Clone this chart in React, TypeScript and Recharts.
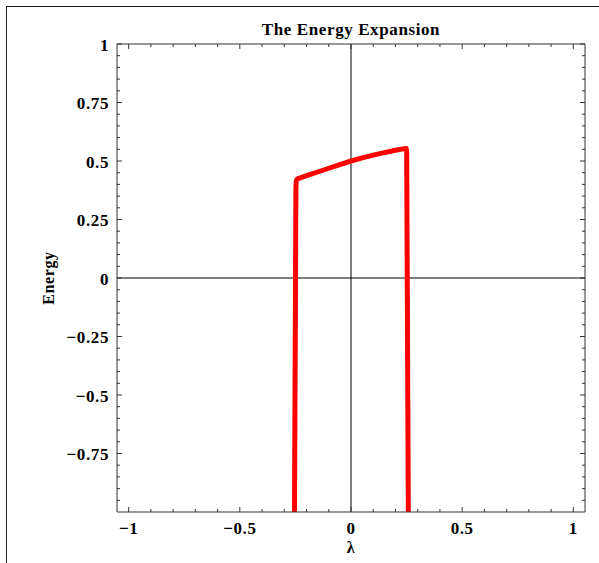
import { LineChart, Line, XAxis, YAxis, ReferenceLine } from 'recharts';

// curve
const lambda = [-0.2545, -0.2478, -0.2465, -0.244, -0.238, -0.2, -0.15, -0.1, -0.05, 0, 0.05, 0.1, 0.15, 0.2, 0.24, 0.2485, 0.2505, 0.2515, 0.2582];
const energy = [-1.08, 0.38, 0.412, 0.421, 0.425, 0.437, 0.453, 0.469, 0.485, 0.5, 0.513, 0.525, 0.536, 0.546, 0.553, 0.553, 0.54, 0.3, -1.08];

const xMajor = [-1, -0.5, 0, 0.5, 1];
const xLabels = ['\u22121', '\u22120.5', '0', '0.5', '1'];
const yMajor = [1, 0.75, 0.5, 0.25, 0, -0.25, -0.5, -0.75];
const yLabels = ['1', '0.75', '0.5', '0.25', '0', '\u22120.25', '\u22120.5', '\u22120.75'];

const steps = (from: number, to: number, step: number) => {
    const out: number[] = [];
    for (let i = Math.round(from / step); i <= Math.round(to / step); i++) out.push(+(i * step).toFixed(4));
    return out;
};
const xTicks = steps(-1, 1, 0.1);
const yTicks = steps(-0.95, 1, 0.05);

const data = lambda.map((x, i) => ({ x, energy: energy[i] }));

const FONT = '"Liberation Serif", "Times New Roman", serif';
const FRAME = '#333';
const textStyle = { fontFamily: FONT, fontWeight: 700, fontSize: 17, letterSpacing: 0.6, fill: '#000' };

const findMajor = (v: number, majors: number[]) => majors.findIndex((m) => Math.abs(m - v) < 1e-6);

const makeTick = (side: 'bottom' | 'top' | 'left' | 'right', majors: number[], labels?: string[]) => (props: any) => {
    const { x, y, payload } = props;
    const i = findMajor(payload.value, majors);
    const len = i >= 0 ? 5 : 3;
    let line;
    if (side === 'bottom') line = <line x1={x} y1={y} x2={x} y2={y - len} stroke={FRAME} />;
    else if (side === 'top') line = <line x1={x} y1={y} x2={x} y2={y + len} stroke={FRAME} />;
    else if (side === 'left') line = <line x1={x} y1={y} x2={x + len} y2={y} stroke={FRAME} />;
    else line = <line x1={x} y1={y} x2={x - len} y2={y} stroke={FRAME} />;
    return (
        <g>
            {line}
            {labels && i >= 0 && side === 'bottom' && (
                <text x={x} y={y + 22} textAnchor="middle" style={textStyle}>{labels[i]}</text>
            )}
            {labels && i >= 0 && side === 'left' && (
                <text x={x - 8} y={y + 6.5} textAnchor="end" style={textStyle}>{labels[i]}</text>
            )}
        </g>
    );
};

export default function App() {
    return (
        <div style={{ position: 'absolute', left: 0, top: 0, width: 599, height: 563, background: '#fff' }}>
            {/* outer frame, only top and left edges show */}
            <div style={{ position: 'absolute', left: 6, top: 6, right: 0, bottom: 0, borderTop: '1.5px solid #222', borderLeft: '1.5px solid #222' }} />
            <div style={{ position: 'absolute', left: 0, top: 0 }}>
                <LineChart width={599} height={563} data={data} margin={{ top: 4, right: 4, bottom: 6, left: 17 }}>
                    <XAxis
                        xAxisId="b"
                        dataKey="x"
                        type="number"
                        domain={[-1.0525, 1.0525]}
                        allowDataOverflow
                        ticks={xTicks}
                        interval={0}
                        height={45}
                        tickSize={0}
                        tickMargin={0}
                        tickLine={false}
                        axisLine={{ stroke: FRAME }}
                        tick={makeTick('bottom', xMajor, xLabels)}
                        label={{ value: '\u03bb', position: 'insideBottom', offset: 4, style: { ...textStyle, fontSize: 16 } }}
                    />
                    <XAxis
                        xAxisId="t"
                        orientation="top"
                        dataKey="x"
                        type="number"
                        domain={[-1.0525, 1.0525]}
                        allowDataOverflow
                        ticks={xTicks}
                        interval={0}
                        height={40}
                        tickSize={0}
                        tickMargin={0}
                        tickLine={false}
                        axisLine={{ stroke: FRAME }}
                        tick={makeTick('top', xMajor)}
                        label={{ value: 'The Energy Expansion', position: 'insideTop', offset: 19, style: { ...textStyle, fontSize: 17 } }}
                    />
                    <YAxis
                        yAxisId="l"
                        type="number"
                        domain={[-1, 1]}
                        allowDataOverflow
                        ticks={yTicks}
                        interval={0}
                        width={100}
                        tickSize={0}
                        tickMargin={0}
                        tickLine={false}
                        axisLine={{ stroke: FRAME }}
                        tick={makeTick('left', yMajor, yLabels)}
                        label={{ value: 'Energy', angle: -90, position: 'insideLeft', offset: 31, style: { ...textStyle, fontSize: 16, textAnchor: 'middle' } }}
                    />
                    <YAxis
                        yAxisId="r"
                        orientation="right"
                        type="number"
                        domain={[-1, 1]}
                        allowDataOverflow
                        ticks={yTicks}
                        interval={0}
                        width={10}
                        tickSize={0}
                        tickMargin={0}
                        tickLine={false}
                        axisLine={{ stroke: FRAME }}
                        tick={makeTick('right', yMajor)}
                    />
                    <ReferenceLine xAxisId="b" yAxisId="l" x={0} stroke="#000" strokeWidth={1} />
                    <ReferenceLine xAxisId="b" yAxisId="l" y={0} stroke="#000" strokeWidth={1} />
                    <Line
                        xAxisId="b"
                        yAxisId="l"
                        type="linear"
                        dataKey="energy"
                        stroke="#ff0000"
                        strokeWidth={5}
                        strokeLinejoin="round"
                        dot={false}
                        activeDot={false}
                        isAnimationActive={false}
                    />
                </LineChart>
            </div>
        </div>
    );
}
